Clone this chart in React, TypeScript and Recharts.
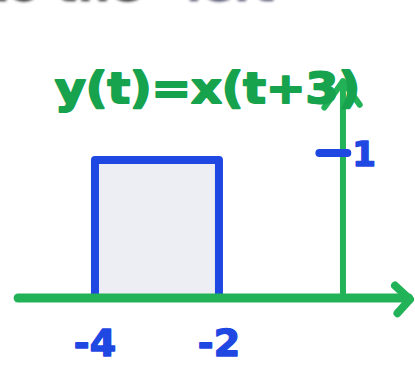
import React from "react";
import {
  ComposedChart,
  Line,
  XAxis,
  YAxis,
  ReferenceArea,
  ReferenceLine,
  ReferenceDot,
} from "recharts";

// Shifted pulse y(t) = x(t+3): value 1 on [-4, -2], 0 elsewhere
const pulseT = [-4, -4, -2, -2];
const pulseY = [0, 1, 1, 0];
const xTickValues = [-4, -2];
const xTickLabels = ["-4", "-2"];
const yTickValue = 1;
const yTickLabel = "1";
const titleText = "y(t)=x(t+3)";
const headerText = ["to the", "left"];

const pulseData = pulseT.map((t, i) => ({ t, y: pulseY[i] }));

const GREEN = "#22b257";
const GREEN_DARK = "#17a24e";
const BLUE = "#1f47e2";
const FILL = "#eceef4";
const HAND = "'DejaVu Sans', 'Liberation Sans', sans-serif";

const X_DOMAIN: [number, number] = [-5.532, 1.162];
const Y_DOMAIN: [number, number] = [-0.507, 2.159];

const textShape =
  (
    value: string,
    opts: {
      size: number;
      color: string;
      anchor?: "start" | "middle" | "end";
      length?: number;
      dy?: number;
      stroke?: number;
    }
  ) =>
  (p: any) =>
    (
      <text
        x={p.cx}
        y={p.cy}
        dy={opts.dy ?? 0}
        textAnchor={opts.anchor ?? "middle"}
        fontFamily={HAND}
        fontWeight={700}
        fontSize={opts.size}
        fill={opts.color}
        stroke={opts.color}
        strokeWidth={opts.stroke ?? 1.5}
        strokeLinejoin="round"
        textLength={opts.length}
        lengthAdjust={opts.length ? "spacingAndGlyphs" : undefined}
      >
        {value}
      </text>
    );

const headerStyle: React.CSSProperties = {
  position: "absolute",
  top: -42,
  fontFamily: HAND,
  fontWeight: 700,
  fontSize: 46,
  filter: "blur(1.5px)",
  whiteSpace: "nowrap",
};

export default function App() {
  return (
    <div
      style={{
        position: "absolute",
        left: 0,
        top: 0,
        width: 415,
        height: 368,
        overflow: "hidden",
        background: "#ffffff",
      }}
    >
      {/* words of the previous line, cut by the top edge */}
      <div style={{ ...headerStyle, left: -14, color: "#2b2b2b" }}>
        {headerText[0]}
      </div>
      <div style={{ ...headerStyle, left: 186, color: "#4a4a68" }}>
        {headerText[1]}
      </div>
      <ComposedChart
        width={415}
        height={368}
        margin={{ top: 0, right: 0, bottom: 0, left: 0 }}
        style={{ position: "absolute", left: 0, top: 0 }}
      >
        <XAxis
          type="number"
          dataKey="t"
          domain={X_DOMAIN}
          allowDataOverflow
          hide
        />
        <YAxis type="number" domain={Y_DOMAIN} allowDataOverflow hide />

        {/* shaded pulse body */}
        <ReferenceArea
          x1={pulseT[0]}
          x2={pulseT[2]}
          y1={0}
          y2={1}
          fill={FILL}
          fillOpacity={1}
          stroke="none"
          ifOverflow="visible"
        />

        {/* pulse outline */}
        <Line
          data={pulseData}
          dataKey="y"
          type="linear"
          stroke={BLUE}
          strokeWidth={8}
          strokeLinejoin="round"
          strokeLinecap="butt"
          dot={false}
          activeDot={false}
          legendType="none"
          isAnimationActive={false}
        />

        {/* horizontal t axis with arrow head */}
        <ReferenceLine
          segment={[
            { x: -5.24, y: 0 },
            { x: 1.06, y: 0 },
          ]}
          stroke={GREEN}
          strokeWidth={9}
          strokeLinecap="round"
          ifOverflow="visible"
        />
        <ReferenceLine
          segment={[
            { x: 0.84, y: 0.09 },
            { x: 1.08, y: -0.01 },
          ]}
          stroke={GREEN}
          strokeWidth={8}
          strokeLinecap="round"
          ifOverflow="visible"
        />
        <ReferenceLine
          segment={[
            { x: 0.88, y: -0.11 },
            { x: 1.08, y: -0.01 },
          ]}
          stroke={GREEN}
          strokeWidth={8}
          strokeLinecap="round"
          ifOverflow="visible"
        />

        {/* vertical axis at t = 0 with arrow head */}
        <ReferenceLine
          segment={[
            { x: 0, y: 0 },
            { x: 0, y: 1.56 },
          ]}
          stroke={GREEN}
          strokeWidth={6}
          strokeLinecap="round"
          ifOverflow="visible"
        />
        <ReferenceLine
          segment={[
            { x: -0.3, y: 1.38 },
            { x: 0, y: 1.57 },
          ]}
          stroke={GREEN}
          strokeWidth={6}
          strokeLinecap="round"
          ifOverflow="visible"
        />
        <ReferenceLine
          segment={[
            { x: 0.27, y: 1.4 },
            { x: 0, y: 1.57 },
          ]}
          stroke={GREEN}
          strokeWidth={6}
          strokeLinecap="round"
          ifOverflow="visible"
        />

        {/* amplitude tick on the vertical axis */}
        <ReferenceLine
          segment={[
            { x: -0.38, y: yTickValue + 0.05 },
            { x: 0.07, y: yTickValue + 0.05 },
          ]}
          stroke={BLUE}
          strokeWidth={8}
          strokeLinecap="round"
          ifOverflow="visible"
        />
        <ReferenceDot
          x={0.34}
          y={yTickValue + 0.04}
          r={0}
          ifOverflow="visible"
          shape={textShape(yTickLabel, { size: 34, color: BLUE, dy: 12 })}
        />

        {/* t tick labels */}
        {xTickValues.map((v, i) => (
          <ReferenceDot
            key={v}
            x={v}
            y={-0.32}
            r={0}
            ifOverflow="visible"
            shape={textShape(xTickLabels[i], {
              size: 38,
              color: BLUE,
              dy: 14,
            })}
          />
        ))}

        {/* signal equation */}
        <ReferenceDot
          x={-4.645}
          y={1.41}
          r={0}
          ifOverflow="visible"
          shape={textShape(titleText, {
            size: 42,
            color: GREEN_DARK,
            anchor: "start",
            length: 305,
            stroke: 2,
          })}
        />
      </ComposedChart>
    </div>
  );
}
